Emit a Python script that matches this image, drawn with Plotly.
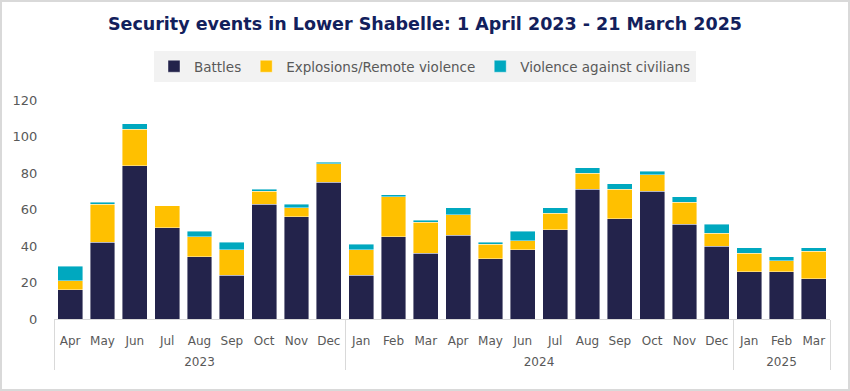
import plotly.graph_objects as go

years = ["2023"] * 9 + ["2024"] * 12 + ["2025"] * 3
months = ["Apr", "May", "Jun", "Jul", "Aug", "Sep", "Oct", "Nov", "Dec",
          "Jan", "Feb", "Mar", "Apr", "May", "Jun", "Jul", "Aug", "Sep", "Oct", "Nov", "Dec",
          "Jan", "Feb", "Mar"]

battles = [16, 42, 84, 50, 34, 24, 63, 56, 75,
           24, 45, 36, 46, 33, 38, 49, 71, 55, 70, 52, 40,
           26, 26, 22]
explosions = [5, 21, 20, 12, 11, 14, 7, 5, 10,
              14, 22, 17, 11, 8, 5, 9, 9, 16, 9, 12, 7,
              10, 6, 15]
civilians = [8, 1, 3, 0, 3, 4, 1, 2, 1,
             3, 1, 1, 4, 1, 5, 3, 3, 3, 2, 3, 5,
             3, 2, 2]

# multicategory axes order the inner labels by first appearance, so make
# each year's month labels unique with invisible zero-width suffixes
first_year = years[0]
month_keys = [m + "\u200b" * (int(y) - int(first_year)) for y, m in zip(years, months)]
# leading line break pushes the year row further below the months
year_keys = ["<br>" + y for y in years]

grey = "#595959"
font = "DejaVu Sans"

fig = go.Figure()
for name, vals, col in [("Battles", battles, "#23234b"),
                        ("Explosions/Remote violence", explosions, "#ffc000"),
                        ("Violence against civilians", civilians, "#00a8bf")]:
    fig.add_trace(go.Bar(
        x=[year_keys, month_keys], y=vals, name=name,
        marker=dict(color=col, line=dict(color="rgba(255,255,255,0.7)", width=0.6))
    ))

W, H = 850, 391
ml, mr, mt, mb = 54, 20, 100, 72
pw, ph = W - ml - mr, H - mt - mb

fig.update_layout(
    width=W, height=H,
    barmode="stack", bargap=0.23,
    paper_bgcolor="white", plot_bgcolor="white",
    margin=dict(l=ml, r=mr, t=mt, b=mb),
    font=dict(family=font, color=grey, size=12),
    title=dict(text="<b>Security events in Lower Shabelle: 1 April 2023 - 21 March 2025</b>",
               x=0.5, xref="container", y=0.94, yref="container", yanchor="middle",
               pad=dict(t=0, b=0),
               font=dict(family=font, size=17.5, color="#12205c")),
    legend=dict(orientation="h", xref="container", x=0.5, xanchor="center",
                yref="container", y=0.83, yanchor="middle",
                bgcolor="#f2f2f2", font=dict(size=13.5, color=grey),
                traceorder="normal", itemwidth=30),
    showlegend=True,
)
fig.update_yaxes(range=[0, 120], dtick=20, showgrid=False, zeroline=False,
                 showline=False, ticks="outside", ticklen=13, tickcolor="rgba(0,0,0,0)",
                 automargin=False, tickfont=dict(size=13, color=grey))
fig.update_xaxes(showline=True, linecolor="#d9d9d9", linewidth=1, ticks="",
                 ticklabelstandoff=11, tickangle=0, automargin=False,
                 showdividers=True, dividercolor="#d9d9d9", dividerwidth=1,
                 tickfont=dict(size=12, color=grey))

# outer border of the chart
fig.add_shape(type="rect", xref="paper", yref="paper",
              x0=(-ml + 1) / pw, x1=1 + (mr - 1) / pw,
              y0=(-mb + 1) / ph, y1=1 + (mt - 1) / ph,
              line=dict(color="#d9d9d9", width=2), layer="below")

fig.write_html("out.html", config={"displayModeBar": False},
               post_script="document.body.style.margin='0';")
